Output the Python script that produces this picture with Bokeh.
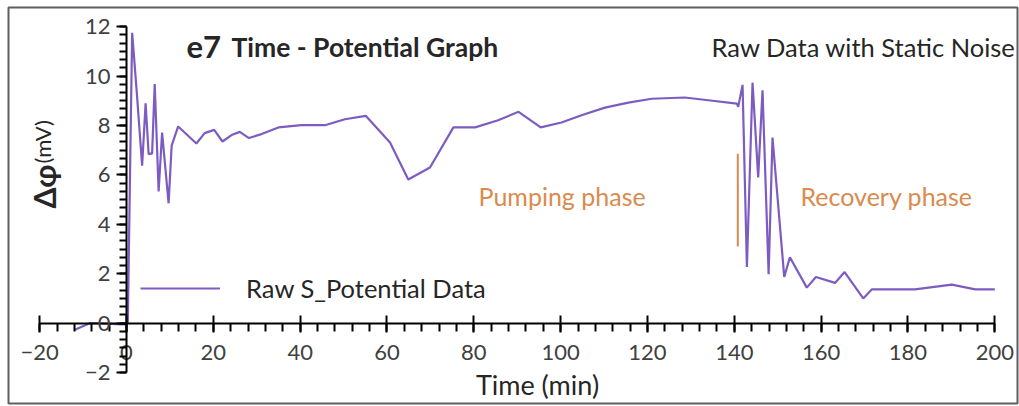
from bokeh.plotting import figure
from bokeh.models import (Range1d, LinearAxis, SingleIntervalTicker, Label,
                          Legend, LegendItem)
from bokeh.embed import file_html
from bokeh.resources import INLINE

# ---------------- data ----------------
time_min = [-12.0, -8.5, -0.5, 0.3, 1.3, 2.3, 3.6, 4.4, 5.1, 5.9, 6.5, 7.4, 8.2,
            9.7, 10.4, 11.9, 16.1, 18.0, 20.2, 22.1, 24.2, 26.1, 28.2, 31.1,
            35.0, 40.3, 45.7, 50.3, 55.1, 60.7, 64.9, 69.9, 75.3, 80.3, 85.6,
            90.3, 95.4, 100.2, 104.8, 110.2, 115.6, 121.0, 128.6, 134.0, 140.6,
            140.9, 141.9, 142.9, 144.2, 145.5, 146.5, 147.9, 148.8, 151.5,
            152.8, 156.7, 158.8, 163.2, 165.4, 169.7, 171.7, 181.6, 190.1,
            195.5, 200.0]
potential_mv = [-0.28, 0.0, -0.05, 0.0, 11.75, 9.5, 6.37, 8.9, 6.84, 6.87, 9.67,
                5.33, 7.71, 4.85, 7.18, 7.96, 7.27, 7.69, 7.82, 7.35, 7.61, 7.74,
                7.49, 7.65, 7.92, 8.01, 8.01, 8.25, 8.39, 7.31, 5.81, 6.30, 7.92,
                7.92, 8.21, 8.55, 7.92, 8.12, 8.41, 8.72, 8.92, 9.08, 9.13, 9.02,
                8.88, 8.75, 9.64, 2.27, 9.73, 5.90, 9.42, 1.98, 7.51, 1.87, 2.67,
                1.44, 1.87, 1.63, 2.07, 1.00, 1.37, 1.37, 1.56, 1.37, 1.37]
phase_marker_time = [140.8]
phase_marker_low = [3.1]
phase_marker_high = [6.85]

x_ticks_interval = 20
y_ticks_interval = 2
x_bounds = (-20, 200)
y_bounds = (-2, 12)

# ---------------- layout helpers (pixel -> data) ----------------
def dx(px):
    return (px - 126.0) / 4.3415

def dy(py):
    return (322.7 - py) / 24.72

L, R, T, B = 8, 1017, 7, 403
FONT = "Lato"
PURPLE = "#7D5CC2"
ORANGE = "#D98A4E"
DARK = "#262626"

p = figure(width=1019, height=406,
           x_range=Range1d(dx(L), dx(R)), y_range=Range1d(dy(B), dy(T)),
           x_axis_type=None, y_axis_type=None,
           output_backend="svg", toolbar_location=None,
           min_border_left=L, min_border_right=1019 - R,
           min_border_top=T, min_border_bottom=406 - B)
p.background_fill_color = "white"
p.border_fill_color = "white"
p.outline_line_color = "#5f5f5f"
p.outline_line_width = 2

# axes crossing at the origin
xaxis = LinearAxis(fixed_location=0, bounds=x_bounds,
                   ticker=SingleIntervalTicker(interval=x_ticks_interval, num_minor_ticks=5))
yaxis = LinearAxis(fixed_location=0, bounds=y_bounds,
                   ticker=SingleIntervalTicker(interval=y_ticks_interval, num_minor_ticks=6))
for ax in (xaxis, yaxis):
    ax.axis_line_color = "black"
    ax.axis_line_width = 2
    ax.major_tick_line_color = "black"
    ax.major_tick_line_width = 2
    ax.minor_tick_line_color = "black"
    ax.minor_tick_line_width = 2
    ax.major_label_text_font = FONT
    ax.major_label_text_font_size = "22px"
    ax.major_label_text_color = "#404040"
xaxis.major_tick_in = 8
xaxis.major_tick_out = 9
xaxis.minor_tick_in = 0
xaxis.minor_tick_out = 8
xaxis.major_label_standoff = 13
yaxis.major_tick_in = 0
yaxis.major_tick_out = 10
yaxis.minor_tick_in = 0
yaxis.minor_tick_out = 7
yaxis.major_label_standoff = 6
p.add_layout(xaxis, "below")
p.add_layout(yaxis, "left")

# data line
r = p.line(time_min, potential_mv, line_color=PURPLE, line_width=2.2)
# phase marker
p.segment(x0=phase_marker_time, y0=phase_marker_low, x1=phase_marker_time,
          y1=phase_marker_high, line_color=ORANGE, line_width=2)

legend = Legend(items=[LegendItem(label="Raw S_Potential Data", renderers=[r])],
                location=(132, 100), glyph_width=80, glyph_height=20,
                label_standoff=26, padding=0, spacing=0,
                border_line_alpha=0, background_fill_alpha=0,
                label_text_font=FONT, label_text_font_size="25.5px",
                label_text_color=DARK)
p.add_layout(legend)

def add_text(px, py, text, size, bold=False, color=DARK, align="left", angle=0):
    p.add_layout(Label(x=dx(px), y=dy(py), text=text, text_font=FONT,
                       text_font_size=size,
                       text_font_style="bold" if bold else "normal",
                       text_color=color, text_align=align,
                       text_baseline="alphabetic", angle=angle,
                       angle_units="deg"))

add_text(186, 46, "e7", "31px", bold=True)
add_text(231, 46, "Time - Potential Graph", "26.5px", bold=True)
add_text(711, 46, "Raw Data with Static Noise", "25.5px")
add_text(478, 195, "Pumping phase", "25px", color=ORANGE)
add_text(800, 195, "Recovery phase", "25px", color=ORANGE)
add_text(537, 384, "Time (min)", "27px", align="center")
add_text(43, 208, "Δφ", "30px", bold=True, angle=90)
add_text(42, 163, "(mV)", "22px", angle=90)

open("out.html", "w").write(file_html(p, INLINE))
